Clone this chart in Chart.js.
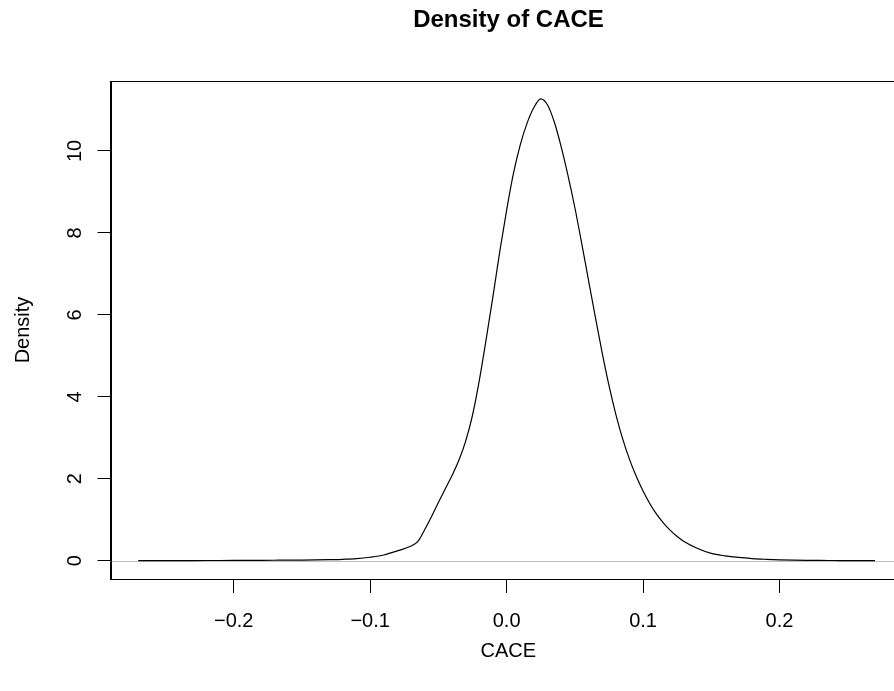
<!DOCTYPE html>
<html>
<head>
<meta charset="utf-8">
<script src="https://cdn.jsdelivr.net/npm/chart.js@4/dist/chart.umd.min.js"></script>
<style>
html,body{margin:0;padding:0;background:#fff;overflow:hidden;width:894px;height:691px;}
#wrap{position:absolute;left:0;top:0;width:1017px;height:691px;}
</style>
</head>
<body>
<div id="wrap"><canvas id="c" width="1017" height="691"></canvas></div>
<script>
// ---- data ----
const cace = [-0.27,-0.26,-0.25,-0.24,-0.23,-0.22,-0.21,-0.20,-0.19,-0.18,-0.17,-0.16,-0.15,-0.14,-0.13,-0.12,-0.11,-0.10,-0.09,-0.08,-0.07,-0.065,-0.06,-0.055,-0.05,-0.045,-0.04,-0.035,-0.03,-0.025,-0.02,-0.015,-0.01,-0.005,0.0,0.005,0.01,0.015,0.02,0.025,0.03,0.035,0.04,0.045,0.05,0.055,0.06,0.065,0.07,0.075,0.08,0.085,0.09,0.095,0.10,0.105,0.11,0.115,0.12,0.125,0.13,0.14,0.15,0.16,0.17,0.18,0.19,0.20,0.21,0.22,0.23,0.24,0.25,0.26,0.27];
const density = [0.002,0.002,0.003,0.003,0.004,0.005,0.006,0.007,0.008,0.010,0.012,0.014,0.017,0.021,0.027,0.035,0.050,0.085,0.14,0.24,0.36,0.47,0.76,1.08,1.42,1.75,2.08,2.45,2.92,3.55,4.40,5.40,6.45,7.55,8.55,9.45,10.15,10.68,11.06,11.27,11.12,10.70,10.10,9.40,8.62,7.75,6.85,5.95,5.08,4.28,3.58,2.98,2.48,2.06,1.70,1.39,1.13,0.92,0.74,0.59,0.47,0.30,0.18,0.12,0.08,0.052,0.035,0.023,0.015,0.010,0.007,0.005,0.003,0.002,0.001];
const xTicks = [-0.2,-0.1,0.0,0.1,0.2];
const yTicks = [0,2,4,6,8,10];
const titleText = 'Density of CACE';
const xLabel = 'CACE';
const yLabel = 'Density';

const FONT = "'Liberation Sans', Arial, Helvetica, sans-serif";
const fmt = v => (v < 0 ? '\u2212' : '') + Math.abs(v).toFixed(1);

const extras = {
  id: 'extras',
  beforeDatasetsDraw(chart) {
    const {ctx, chartArea: a, scales: {y}} = chart;
    const py = Math.round(y.getPixelForValue(0)) + 0.5;
    ctx.save();
    ctx.strokeStyle = '#bebebe';
    ctx.lineWidth = 1;
    ctx.beginPath(); ctx.moveTo(a.left, py); ctx.lineTo(a.right, py); ctx.stroke();
    ctx.restore();
  },
  afterDraw(chart) {
    const {ctx, chartArea: a, scales: {y}} = chart;
    ctx.save();
    ctx.strokeStyle = '#000';
    ctx.lineWidth = 1;
    ctx.strokeRect(Math.round(a.left) + 0.5, Math.round(a.top) + 0.5, Math.round(a.right - a.left), Math.round(a.bottom - a.top));
    // rotated y tick labels (R style, las=0)
    ctx.fillStyle = '#000';
    ctx.font = '20px ' + FONT;
    ctx.textAlign = 'center';
    ctx.textBaseline = 'alphabetic';
    y.ticks.forEach(t => {
      const p = y.getPixelForValue(t.value);
      ctx.save();
      ctx.translate(81, p);
      ctx.rotate(-Math.PI / 2);
      ctx.fillText(String(t.value), 0, 0);
      ctx.restore();
    });
    ctx.restore();
  }
};

new Chart(document.getElementById('c'), {
  type: 'scatter',
  data: {
    datasets: [{
      data: cace.map((x, i) => ({x: x, y: density[i]})),
      showLine: true,
      borderColor: '#000',
      borderWidth: 1.2,
      pointRadius: 0,
      cubicInterpolationMode: 'monotone',
      fill: false
    }]
  },
  options: {
    responsive: false,
    animation: false,
    devicePixelRatio: 1,
    layout: {padding: {left: 0, right: 0, top: 0, bottom: 0}},
    plugins: {
      legend: {display: false},
      tooltip: {enabled: false},
      title: {
        display: true, text: titleText, color: '#000',
        font: {family: FONT, size: 24, weight: 'bold', lineHeight: 1.2},
        padding: {top: 6, bottom: 46.2}
      }
    },
    scales: {
      x: {
        type: 'linear', min: -0.2903, max: 0.2927,
        afterBuildTicks: s => { s.ticks = xTicks.map(v => ({value: v})); },
        afterFit: s => { s.height = 112; },
        grid: {drawOnChartArea: false, drawTicks: true, tickLength: 14, color: '#000', lineWidth: 1},
        border: {display: true, color: '#000', width: 1},
        ticks: {color: '#000', font: {family: FONT, size: 20}, padding: 16, maxRotation: 0, minRotation: 0,
          callback: v => fmt(v)},
        title: {display: true, text: xLabel, color: '#000', font: {family: FONT, size: 20, lineHeight: 1.2}, padding: {top: 28, bottom: 28}}
      },
      y: {
        type: 'linear', min: -0.446, max: 11.707,
        afterBuildTicks: s => { s.ticks = yTicks.map(v => ({value: v})); },
        afterFit: s => { s.width = 110.5; },
        grid: {drawOnChartArea: false, drawTicks: true, tickLength: 13, color: '#000', lineWidth: 1},
        border: {display: true, color: '#000', width: 1},
        ticks: {display: false},
        title: {display: true, text: yLabel, color: '#000', font: {family: FONT, size: 20, lineHeight: 1.2}, padding: {top: 11, bottom: 0}}
      },
      yRight: {
        type: 'linear', position: 'right', display: true,
        min: -0.446, max: 11.707,
        afterFit: s => { s.width = 111; },
        grid: {display: false, drawTicks: false},
        border: {display: false},
        ticks: {display: false},
        title: {display: false}
      }
    }
  },
  plugins: [extras]
});
</script>
</body>
</html>
